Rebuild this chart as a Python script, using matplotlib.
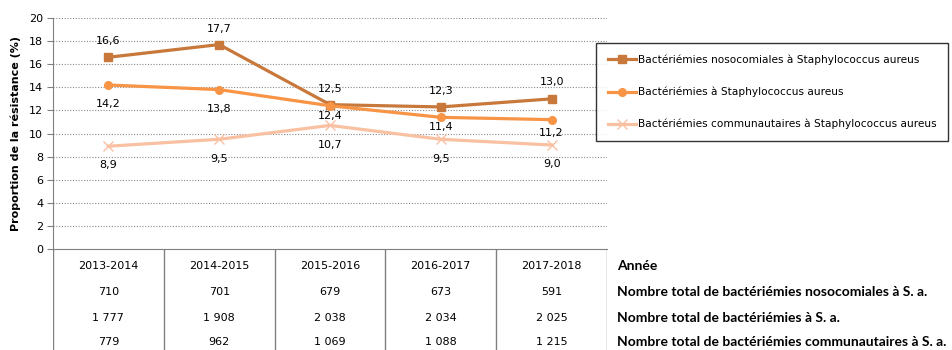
import matplotlib
matplotlib.use("Agg")
from matplotlib import pyplot as plt
from matplotlib import font_manager

years = ["2013-2014", "2014-2015", "2015-2016", "2016-2017", "2017-2018"]
noso = [16.6, 17.7, 12.5, 12.3, 13.0]
total = [14.2, 13.8, 12.4, 11.4, 11.2]
commu = [8.9, 9.5, 10.7, 9.5, 9.0]

n_noso = ["710", "701", "679", "673", "591"]
n_total = ["1 777", "1 908", "2 038", "2 034", "2 025"]
n_commu = ["779", "962", "1 069", "1 088", "1 215"]

series_names = ["Bactériémies nosocomiales à Staphylococcus aureus",
                "Bactériémies à Staphylococcus aureus",
                "Bactériémies communautaires à Staphylococcus aureus"]
row_names = ["Année",
             "Nombre total de bactériémies nosocomiales à S. a.",
             "Nombre total de bactériémies à S. a.",
             "Nombre total de bactériémies communautaires à S. a."]

colors = ["#C8783A", "#F79446", "#F9C0A2"]
# label offsets in pixels (label centre relative to point), as Excel placed them
off_noso = [16, 16, 16, 16, 17]
off_total = [-19, -19, -10, -10, -13]
off_commu = [-19, -20, -20, -20, -19]

names = {f.name for f in font_manager.fontManager.ttflist}
row_font = "Liberation Sans Narrow" if "Liberation Sans Narrow" in names else "Lato"

W, H = 952, 350
fig = plt.figure(figsize=(W / 100, H / 100), dpi=100)

x0, x1, ytop, ybot = 53, 607, 18, 249
ax = fig.add_axes([x0 / W, (H - ybot) / H, (x1 - x0) / W, (ybot - ytop) / H])
xs = list(range(len(years)))

ax.plot(xs, noso, color=colors[0], lw=2.3, marker="s", ms=5.5, label=series_names[0], zorder=3)
ax.plot(xs, total, color=colors[1], lw=2.3, marker="o", ms=5.5, label=series_names[1], zorder=3)
ax.plot(xs, commu, color=colors[2], lw=2.3, marker="x", ms=7, mew=1, label=series_names[2], zorder=2)

fmt = lambda v: ("%.1f" % v).replace(".", ",")
for vals, offs in [(noso, off_noso), (total, off_total), (commu, off_commu)]:
    for i in xs:
        ax.annotate(fmt(vals[i]), (i, vals[i]), xytext=(0, offs[i] * 0.72), textcoords="offset points",
                    ha="center", va="center", fontsize=8)

ax.set_xlim(-0.5, len(years) - 0.5)
ax.set_ylim(0, 20)
ax.set_yticks(range(0, 21, 2))
ax.tick_params(axis="y", labelsize=8, length=4, color="#808080", pad=3)
ax.set_xticks([])
ax.yaxis.grid(True, linestyle=(0, (1, 1.5)), color="#8a8a8a", lw=0.8)
ax.set_axisbelow(True)
for s in ["top", "right"]:
    ax.spines[s].set_visible(False)
for s in ["left", "bottom"]:
    ax.spines[s].set_color("#808080")
ax.set_ylabel("Proportion de la résistance (%)", fontsize=8, fontweight="bold", labelpad=6)

leg = ax.legend(loc="upper left", bbox_to_anchor=((596 - x0) / (x1 - x0), (ybot - 43) / (ybot - ytop)),
                fontsize=7.6, frameon=True, fancybox=False, edgecolor="black", labelspacing=2.05,
                handlelength=2.7, handletextpad=0.15, borderpad=1.1, borderaxespad=0)
leg.get_frame().set_linewidth(1)
leg.set_zorder(5)

# table under the chart
tab = fig.add_axes([x0 / W, 0, (x1 - x0) / W, (H - ybot) / H])
tab.set_xlim(-0.5, len(years) - 0.5)
tab.set_ylim(0, H - ybot)
tab.axis("off")
for i in range(len(years) + 1):
    tab.axvline(i - 0.5, color="#808080", lw=1)
rows = [years, n_noso, n_total, n_commu]
row_y = [266, 292, 318, 342]
for r, yy in zip(rows, row_y):
    for i, v in enumerate(r):
        tab.text(i, H - yy, v, ha="center", va="center", fontsize=8)
for name, yy in zip(row_names, row_y):
    tab.text((617 - x0) / (x1 - x0), (H - yy) / (H - ybot), name, transform=tab.transAxes,
             ha="left", va="center", fontsize=10, fontweight="bold", family=row_font,
             clip_on=False)

fig.savefig("out.png", dpi=100)
